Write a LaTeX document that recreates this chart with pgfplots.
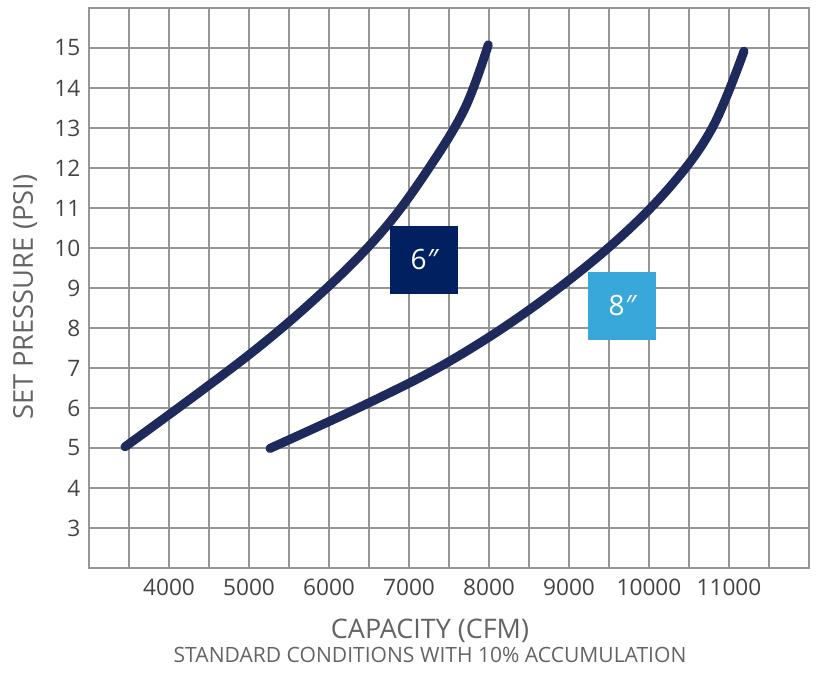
\documentclass[border=0pt]{standalone}
\usepackage{fontspec}
\setmainfont{Open Sans}
\usepackage{pgfplots}
\pgfplotsset{compat=1.18}
\definecolor{curvec}{RGB}{31,42,92}
\definecolor{sixc}{RGB}{0,32,96}
\definecolor{eightc}{RGB}{56,168,218}
\definecolor{gridc}{RGB}{150,150,150}
\definecolor{tickc}{RGB}{68,68,68}
\definecolor{labc}{RGB}{100,100,100}
\begin{document}
\begin{tikzpicture}
\useasboundingbox (-66.75pt,-78.75pt) rectangle (545.25pt,426pt);
\begin{axis}[
  at={(0,0)}, anchor=south west,
  scale only axis, width=540pt, height=420pt,
  xmin=3000, xmax=12000, ymin=2, ymax=16,
  xtick={4000,5000,...,11000},
  minor xtick={3500,4500,...,11500},
  ytick={3,4,...,15},
  scaled x ticks=false,
  grid=both,
  major grid style={gridc, line width=1.1pt},
  minor grid style={gridc, line width=1.1pt},
  axis line style={gridc, line width=1.1pt},
  major tick length=0pt, minor tick length=0pt,
  /pgf/number format/assume math mode=true,
  /pgf/number format/1000 sep={},
  tick label style={font=\fontsize{17}{17}\selectfont, text=tickc},
  xticklabel style={yshift=-5pt},
  yticklabel style={xshift=-3pt},
  clip=false,
]
\addplot[curvec, line width=6.75pt, line cap=round, smooth, tension=0.6] coordinates {
(3450,5.03) (5000,7.33) (6000,9.05) (6700,10.5) (7250,12) (7700,13.5) (7991,15.08)
};
\addplot[curvec, line width=6.75pt, line cap=round, smooth, tension=0.6] coordinates {
(5262,4.99) (6500,6.13) (7500,7.16) (8500,8.45) (9490,10) (10250,11.5)
(10790,13) (11187,14.92)
};
\node[fill=sixc, minimum size=51pt, inner sep=0pt, text=white, font=\fontsize{21}{21}\selectfont] at (axis cs:7187,9.7) {6{\itshape ″}};
\node[fill=eightc, minimum size=51pt, inner sep=0pt, text=white, font=\fontsize{21}{21}\selectfont] at (axis cs:9662,8.55) {8{\itshape ″}};
\end{axis}
\node[anchor=base, text=labc, font=\fontsize{20.2}{20.2}\selectfont] at (255.75pt,-53.25pt) {CAPACITY (CFM)};
\node[anchor=base, text=labc, font=\fontsize{15.8}{15.8}\selectfont] at (255.75pt,-71.25pt) {STANDARD CONDITIONS WITH 10\% ACCUMULATION};
\node[anchor=base, rotate=90, text=labc, font=\fontsize{20.5}{20.5}\selectfont] at (-42pt,203pt) {SET PRESSURE (PSI)};
\end{tikzpicture}
\end{document}
